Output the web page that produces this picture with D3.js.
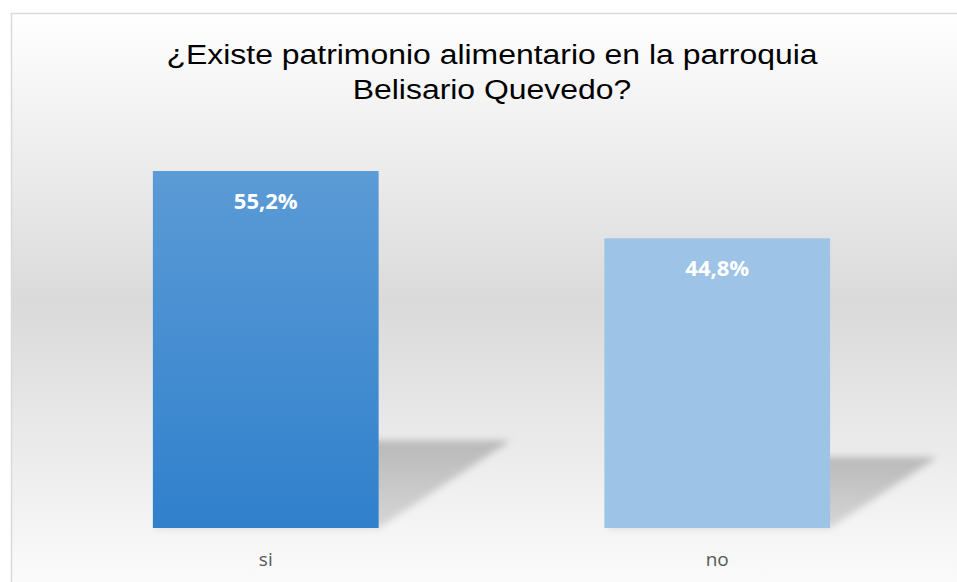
<!DOCTYPE html>
<html>
<head>
<meta charset="utf-8">
<script src="https://cdn.jsdelivr.net/npm/d3@7"></script>
<style>
  html, body { margin: 0; padding: 0; background: #ffffff; }
  #chart { width: 957px; height: 582px; }
</style>
</head>
<body>
<div id="chart"></div>
<script>

var categories = ["si", "no"];
var values = [55.2, 44.8];
var valueLabels = ["55,2%", "44,8%"];
var titleLines = ["¿Existe patrimonio alimentario en la parroquia", "Belisario Quevedo?"];

var width = 957,
    height = 582;

var svg = d3.select("#chart").append("svg")
  .attr("width", width)
  .attr("height", height);

var defs = svg.append("defs");

// chart area background
var bg = defs.append("linearGradient")
  .attr("id", "bgGrad")
  .attr("x1", 0).attr("y1", 0).attr("x2", 0).attr("y2", 1);
bg.append("stop").attr("offset", "0%").attr("stop-color", "#ffffff");
bg.append("stop").attr("offset", "50%").attr("stop-color", "#dadada");
bg.append("stop").attr("offset", "100%").attr("stop-color", "#fcfcfc");

var barGrad = defs.append("linearGradient")
  .attr("id", "barGrad")
  .attr("x1", 0).attr("y1", 0).attr("x2", 0).attr("y2", 1);
barGrad.append("stop").attr("offset", "0%").attr("stop-color", "#5b9bd6");
barGrad.append("stop").attr("offset", "100%").attr("stop-color", "#3080cc");

var shadowGrad = defs.append("linearGradient")
  .attr("id", "shadowGrad")
  .attr("x1", 0).attr("y1", 0).attr("x2", 0).attr("y2", 1);
shadowGrad.append("stop").attr("offset", "0%").attr("stop-color", "#b9b9b9");
shadowGrad.append("stop").attr("offset", "100%").attr("stop-color", "#d6d6d6");

defs.append("filter")
  .attr("id", "blur")
  .attr("x", "-20%").attr("y", "-20%").attr("width", "140%").attr("height", "140%")
  .append("feGaussianBlur")
  .attr("stdDeviation", 3.5);

svg.append("rect")
  .attr("x", 11.5)
  .attr("y", 13.5)
  .attr("width", 960)
  .attr("height", 580)
  .attr("fill", "url(#bgGrad)")
  .attr("stroke", "#d9d9d9")
  .attr("stroke-width", 1.5);

var xScale = d3.scaleBand()
  .domain(categories)
  .range([40, 943])
  .paddingInner(0.5)
  .paddingOuter(0.25);

var yScale = d3.scaleLinear()
  .domain([0, 60])
  .range([528, 140]);

var fills = ["url(#barGrad)", "#9dc3e6"];

var data = categories.map(function(c, i){
  return { cat: c, value: values[i], label: valueLabels[i], fill: fills[i] };
});

// perspective shadows
svg.append("g").selectAll("path")
  .data(data)
  .enter()
  .append("path")
  .attr("fill", "url(#shadowGrad)")
  .attr("filter", "url(#blur)")
  .attr("d", function(d){
    var x0 = xScale(d.cat),
        x1 = x0 + xScale.bandwidth(),
        yb = yScale(0),
        h = yScale(0) - yScale(d.value),
        shift = 0.37 * h,
        top = yb - 0.245 * h;
    return "M" + x0 + "," + yb + "L" + x1 + "," + yb +
      "L" + (x1 + shift) + "," + top + "L" + (x0 + shift) + "," + top + "Z";
  });

svg.append("g").selectAll("rect")
  .data(data)
  .enter()
  .append("rect")
  .attr("x", function(d){ return xScale(d.cat); })
  .attr("y", function(d){ return yScale(d.value); })
  .attr("width", xScale.bandwidth())
  .attr("height", function(d){ return yScale(0) - yScale(d.value); })
  .attr("fill", function(d){ return d.fill; });

svg.append("g").selectAll("text")
  .data(data)
  .enter()
  .append("text")
  .attr("x", function(d){ return xScale(d.cat) + xScale.bandwidth() / 2; })
  .attr("y", function(d){ return yScale(d.value) + 38; })
  .attr("text-anchor", "middle")
  .attr("font-family", "'Open Sans', sans-serif")
  .attr("font-weight", "bold")
  .attr("font-size", "22px")
  .attr("fill", "#ffffff")
  .text(function(d){ return d.label; });

var xAxis = d3.axisBottom(xScale).tickSize(0).tickPadding(0);

svg.append("g")
  .attr("class", "x axis")
  .attr("transform", "translate(0," + yScale(0) + ")")
  .call(xAxis)
  .call(function(g){
    g.select(".domain").remove();
    g.selectAll("text")
      .attr("dy", null)
      .attr("y", 38)
      .attr("font-family", "'Open Sans', sans-serif")
      .attr("font-size", "19px")
      .attr("fill", "#595959");
  });

// title is a little wider than plain Arial, so stretch it horizontally
svg.append("g")
  .attr("transform", "translate(492,0) scale(1.14,1)")
  .append("text")
  .attr("text-anchor", "middle")
  .attr("font-family", "'Liberation Sans', Arial, sans-serif")
  .attr("font-size", "28px")
  .attr("fill", "#000000")
  .selectAll("tspan")
  .data(titleLines)
  .enter()
  .append("tspan")
  .attr("x", 0)
  .attr("y", function(d, i){ return 64 + i * 35; })
  .text(function(d){ return d; });

</script>
</body>
</html>
